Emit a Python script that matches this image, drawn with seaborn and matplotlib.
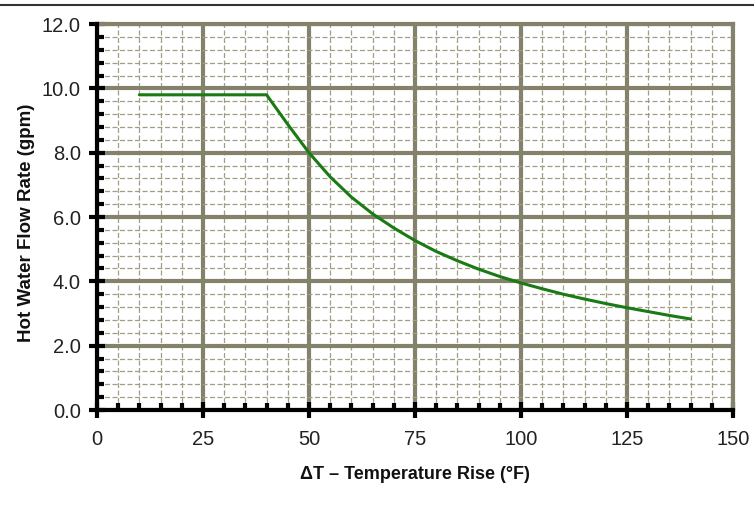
import matplotlib
matplotlib.use("Agg")
import matplotlib.pyplot as plt
import seaborn as sns
import pandas as pd
from matplotlib.ticker import MultipleLocator, FormatStrFormatter

delta_t = [10, 40, 45, 50, 55, 60, 65, 70, 75, 80, 85, 90, 95, 100, 105, 110, 115, 120, 125, 130, 135, 140]
flow_gpm = [9.8, 9.8, 8.88, 8.0, 7.25, 6.62, 6.1, 5.66, 5.27, 4.93, 4.64, 4.38, 4.15, 3.95, 3.77, 3.6, 3.45, 3.31, 3.18, 3.06, 2.94, 2.83]

x_ticks = [0, 25, 50, 75, 100, 125, 150]
y_ticks = [0.0, 2.0, 4.0, 6.0, 8.0, 10.0, 12.0]

sns.set_style("white")
plt.rcParams['font.family'] = ['Liberation Sans', 'DejaVu Sans']

df = pd.DataFrame({"dt": delta_t, "flow": flow_gpm})

fig = plt.figure(figsize=(7.54, 5.16), dpi=100)
ax = fig.add_axes([0.1286, 0.2054, 0.8435, 0.748])

grid_col = "#84826a"
ax.set_xlim(0, 150)
ax.set_ylim(0, 12)
ax.set_xticks(x_ticks)
ax.set_yticks(y_ticks)
ax.yaxis.set_major_formatter(FormatStrFormatter('%.1f'))
ax.xaxis.set_minor_locator(MultipleLocator(5))
ax.yaxis.set_minor_locator(MultipleLocator(0.4))

ax.grid(which='minor', color='#a09e86', linestyle=(0, (4, 2)), linewidth=0.9)
ax.grid(which='major', color=grid_col, linestyle='-', linewidth=3.0)
ax.set_axisbelow(True)

sns.lineplot(data=df, x="dt", y="flow", ax=ax, color="#1a7a14", linewidth=2.2, zorder=5)

for s in ['top', 'right']:
    ax.spines[s].set_color(grid_col)
    ax.spines[s].set_linewidth(3.0)
for s in ['left', 'bottom']:
    ax.spines[s].set_color('black')
    ax.spines[s].set_linewidth(3.0)
    ax.spines[s].set_zorder(6)

ax.tick_params(which='major', direction='inout', length=11, width=3, color='black',
               labelsize=14.5, pad=6, labelcolor='#222222')
ax.tick_params(which='minor', direction='in', length=5, width=3, color='black')
ax.tick_params(axis='x', which='both', bottom=True, top=False)
ax.tick_params(axis='y', which='both', left=True, right=False)
ax.tick_params(axis='x', which='major', pad=9)

ax.set_xlabel("ΔT – Temperature Rise (°F)", fontsize=13, fontweight='bold', labelpad=12, color='#111111')
ax.set_ylabel("Hot Water Flow Rate (gpm)", fontsize=13.5, fontweight='bold', labelpad=9, color='#111111')
ax.yaxis.set_label_coords(-0.098, 0.485)

fig.add_artist(plt.Line2D([0, 1], [1 - 5/516, 1 - 5/516], color='#333333', linewidth=1.5, transform=fig.transFigure))

fig.savefig("out.png", dpi=100)
